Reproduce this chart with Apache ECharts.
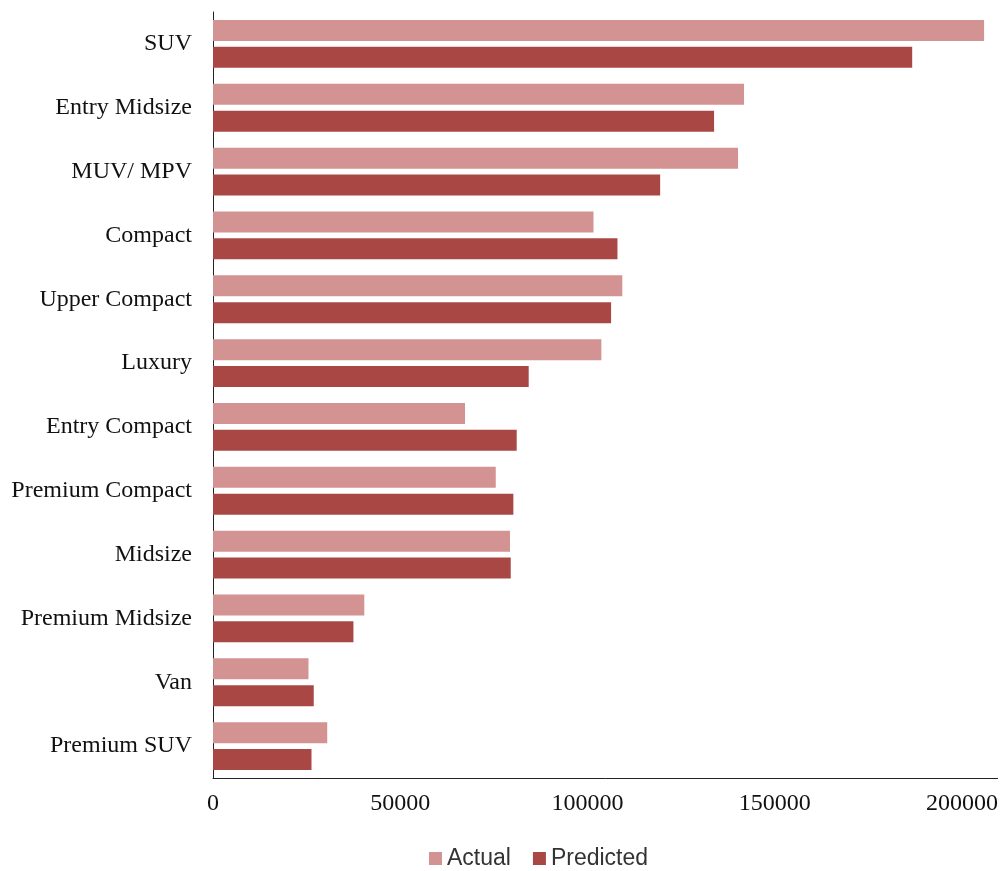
<!DOCTYPE html>
<html>
<head>
<meta charset="utf-8">
<script src="https://cdn.jsdelivr.net/npm/echarts@6/dist/echarts.min.js"></script>
<style>html,body{margin:0;padding:0;background:#fff;}#c{width:1001px;height:871px;}</style>
</head>
<body>
<div id="c"></div>
<script>
const categories = ['SUV','Entry Midsize','MUV/ MPV','Compact','Upper Compact','Luxury','Entry Compact','Premium Compact','Midsize','Premium Midsize','Van','Premium SUV'];
const actual =    [205900, 141800, 140200, 101600, 109300, 103700, 67300, 75500, 79300, 40400, 25500, 30500];
const predicted = [186700, 133800, 119400, 108000, 106300, 84300, 81100, 80200, 79500, 37500, 26900, 26300];
const xTicks = [0, 50000, 100000, 150000, 200000];

const chart = echarts.init(document.getElementById('c'));
chart.setOption({
  animation: false,
  grid: { left: 213, right: 1, top: 12, bottom: 93, containLabel: false },
  legend: {
    data: ['Actual', 'Predicted'],
    top: 842, left: 424,
    itemWidth: 13, itemHeight: 13, itemGap: 22,
    icon: 'rect',
    textStyle: { fontFamily: 'Liberation Sans Narrow, Liberation Sans, sans-serif', fontSize: 23, color: '#333' }
  },
  xAxis: {
    type: 'value', min: 0, max: 209500, interval: 50000,
    splitLine: { show: false },
    axisLine: { show: true, lineStyle: { color: '#222', width: 1 } },
    axisTick: { show: false },
    axisLabel: {
      showMaxLabel: false,
      margin: 14,
      fontFamily: 'Liberation Serif, Times New Roman, serif', fontSize: 24, color: '#111',
      formatter: v => xTicks.includes(v) ? String(v) : ''
    }
  },
  yAxis: {
    type: 'category', data: categories, inverse: true,
    axisLine: { show: true, lineStyle: { color: '#222', width: 1 } },
    axisTick: { show: false },
    axisLabel: { margin: 21, fontFamily: 'Liberation Serif, Times New Roman, serif', fontSize: 24, color: '#111' }
  },
  series: [
    { name: 'Actual', type: 'bar', data: actual, barWidth: 21, barGap: '28%',
      itemStyle: { color: '#D39392' } },
    { name: 'Predicted', type: 'bar', data: predicted, barWidth: 21, barGap: '28%',
      itemStyle: { color: '#A94745' } }
  ]
});
</script>
</body>
</html>
